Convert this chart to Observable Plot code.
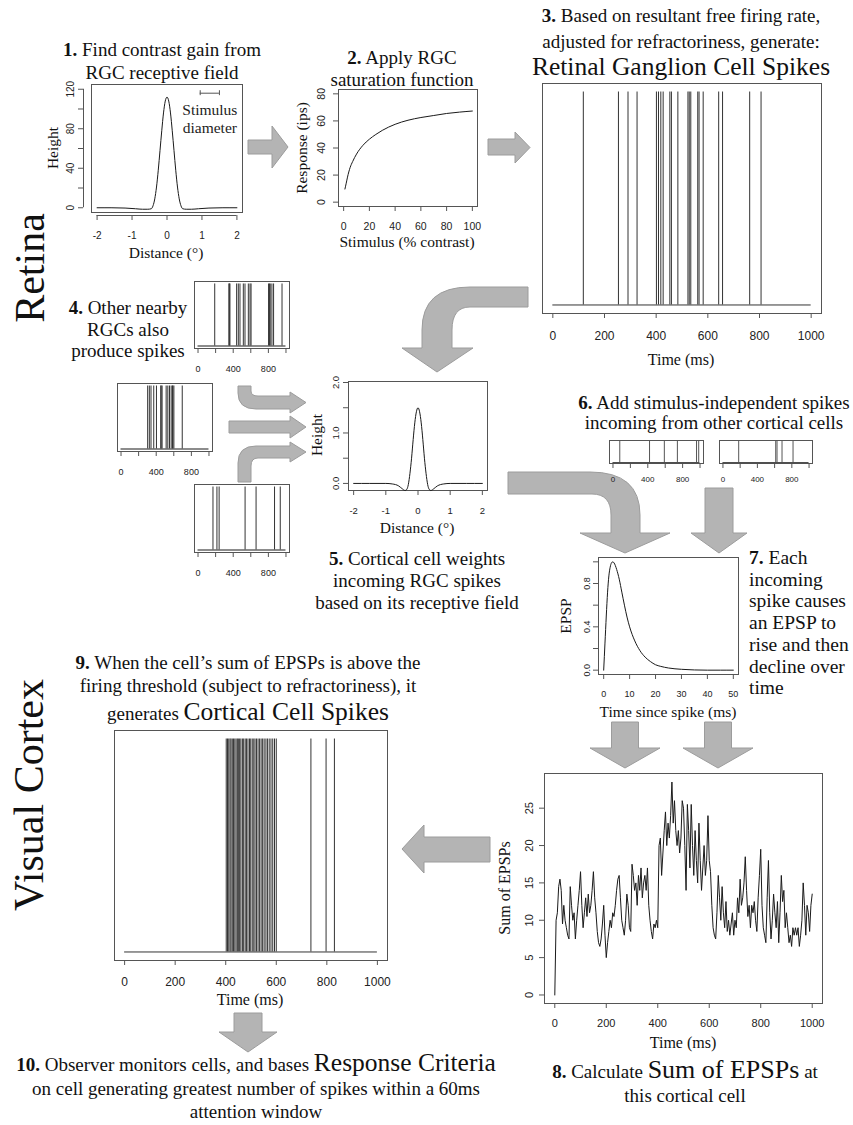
<!DOCTYPE html>
<html><head><meta charset="utf-8">
<script src="https://cdn.jsdelivr.net/npm/d3@7"></script>
<script src="https://cdn.jsdelivr.net/npm/@observablehq/plot@0.6"></script>
<style>
body{margin:0;background:#fff;}
#page{position:relative;width:853px;height:1125px;overflow:hidden;background:#fff;font-family:"Liberation Serif","Times New Roman",serif;color:#111;}
.t{position:absolute;white-space:nowrap;transform:translate(-50%,-50%);line-height:1;}
.l{position:absolute;white-space:nowrap;transform:translate(0,-50%);line-height:1;}
svg.plot-abs{position:absolute;}
</style></head><body><div id="page"></div>
<script>
// ---------------- DATA ----------------
// 1. RGC receptive field
const rfDistance = [-2,-1.6,-1.2,-0.9,-0.7,-0.55,-0.45,-0.4,-0.35,-0.3,-0.25,-0.2,-0.15,-0.1,-0.05,0,0.05,0.1,0.15,0.2,0.25,0.3,0.35,0.4,0.45,0.55,0.7,0.9,1.2,1.6,2];
const rfHeight   = [0,0,-0.3,-1,-1.5,-1.5,-1,2,9,21,38,58,78,96,108,112,108,96,78,58,38,21,9,2,-1,-1.5,-1.5,-1,-0.3,0,0];
const stimulusDiameter = [0.95, 1.5];
// 2. RGC saturation function
const satContrast = [1,2,3,5,7,10,15,20,25,30,40,50,60,70,80,90,100];
const satResponse = [9.7,14,18.5,25.5,30,35.5,42,46.5,50,53,57.5,60.5,62.5,64,65.5,66.5,67.3];
// 3. Retinal ganglion cell spikes (ms)
const rgcSpikes = [118,254,291,326,401,409,418,427,453,459,484,523,528,534,561,566,582,642,657,762,806];
// 4. Other nearby RGCs
const nearbySpikesA = [190,351,356,363,439,458,477,515,534,572,591,603,802,812,821,840,859,955];
const nearbySpikesB = [303,322,341,372,403,452,456,467,513,532,551,570,585,589,601,696];
const nearbySpikesC = [170,215,240,535,660,870,935];
// 5. Cortical cell receptive field weights
const cwDistance = [-2,-1.5,-1,-0.8,-0.6,-0.5,-0.4,-0.35,-0.3,-0.25,-0.2,-0.15,-0.1,-0.05,0,0.05,0.1,0.15,0.2,0.25,0.3,0.35,0.4,0.5,0.6,0.8,1,1.5,2];
const cwHeight   = [0,0,0,-0.01,-0.05,-0.1,-0.14,-0.12,-0.02,0.2,0.5,0.87,1.2,1.42,1.5,1.42,1.2,0.87,0.5,0.2,-0.02,-0.12,-0.14,-0.1,-0.05,-0.01,0,0,0];
// 6. Stimulus-independent cortical spikes
const otherSpikesA = [78,420,590,740,960,985];
const otherSpikesB = [183,613,628,686,814];
// 7. EPSP time course
const epspTime  = [0,0.5,1,1.5,2,2.5,3,3.5,4,5,6,7,8,9,10,12,14,16,18,20,22,25,30,35,40,45,50];
const epspValue = [0,0.25,0.5,0.72,0.87,0.95,0.99,1.0,0.99,0.93,0.84,0.72,0.6,0.49,0.4,0.27,0.18,0.12,0.08,0.05,0.035,0.02,0.008,0.002,0,0,0];
// 8. Sum of EPSPs, one sample every 5 ms from 0 to 1000 ms
const sumStepMs = 5;
const sumEPSPs = [
0,10,11,14.5,15.5,14,9.5,12,10,9,
8,7.5,14.5,12,10,11,7.5,10,12,14,
16.5,12,9,11,13,10.5,13.5,11,12,14,
16.5,13,11,8.5,7,6.5,7.5,9.5,12,8,
5,7,8.5,10,9,11,10.5,12,14,15.5,
16,13,10,9,8,10,13.5,12,9,8.5,
17.5,16,14,15,12,16,14,17,13,15,
16,14,17,12,10,8.5,7.5,9.5,9,10,
9,20,21,16,19,22,24.5,20,23,21,
24,28.5,23,26,22,20,22,19,21,26,
25,20,14,25.5,22,17,25.5,20,16,22,
18,15,23,18,14,17,20,16,18,24,
18,16.5,12,9,8,7.5,11,16,13,10,
14.5,11,9,12.5,8.5,10,8,9.5,11,8,
10,9,13,11,15.5,12,13,15,18.5,14,
10.5,12,9,12,11,12.5,10,8.5,13,16,
19.5,12,9,8,7,13,18,11,7.5,10,
13.5,11,9,12.5,7,11,16,12.5,14,9,
11,9,7,8,6.5,9,8,9,8,9,
6.5,8,10,15,12,8,12,11,8.5,12,
13.5];
// 9. Cortical cell spikes (ms)
const corticalSpikes = [402,407,412,417,421,426,431,436,441,446,450,455,460,466,471,477,482,488,494,499,505,511,516,522,528,534,540,546,552,559,565,572,579,586,593,600,737,797,830];
// tick values
const msTicks = [0,200,400,600,800,1000];
const msTicksSmallLabels = [0,400,800];
const degTicks = [-2,-1,0,1,2];
const rfTicks = [0,20,40,60,80,100,120], rfTickLabels = [0,40,80,120];
const pctTicks = [0,20,40,60,80,100], ipsTicks = [0,20,40,60,80];
const cwTicks = [0,0.5,1,1.5,2], cwTickLabels = [0,1,2];
const epspTimeTicks = [0,10,20,30,40,50];
const epspTicks = [0,0.2,0.4,0.6,0.8,1.0], epspTickLabels = [0,0.4,0.8];
const sumTicks = [0,5,10,15,20,25];

// ---------------- LAYOUT / STYLE ----------------
const AX = "#555", TX = "#222", LN = "#1a1a1a", SP = "#333";
const SANS = '"Liberation Sans",Arial,sans-serif';
const SERIF = '"Liberation Serif","Times New Roman",serif';
const page = document.getElementById("page");

function addText(x, y, html, size, cls = "t", extra = "") {
  const d = document.createElement("div");
  d.className = cls;
  d.style.left = x + "px"; d.style.top = y + "px"; d.style.fontSize = size + "px";
  if (extra) d.style.cssText += extra;
  d.innerHTML = html;
  page.appendChild(d);
}
function addVText(x, y, html, size) {
  addText(x, y, html, size, "t", "transform:translate(-50%,-50%) rotate(-90deg);");
}

function panel(box, xDomain, yDomain, marks, fs) {
  const M = 60;
  const svg = Plot.plot({
    width: box.w + 2 * M, height: box.h + 2 * M,
    marginTop: M, marginBottom: M, marginLeft: M, marginRight: M,
    x: {domain: xDomain, axis: null}, y: {domain: yDomain, axis: null},
    style: {fontFamily: SANS, fontSize: fs + "px", background: "transparent", overflow: "visible", color: TX},
    marks
  });
  svg.classList.add("plot-abs");
  svg.style.position = "absolute";
  svg.style.left = (box.x - M) + "px";
  svg.style.top = (box.y - M) + "px";
  svg.style.maxWidth = "none";
  page.appendChild(svg);
}

function rAxes(o) {
  const m = [Plot.frame({stroke: AX})];
  if (o.xTicks) {
    m.push(Plot.ruleY([o.yDomain[0]], {x1: o.xTicks[0], x2: o.xTicks[o.xTicks.length - 1], dy: o.gapX || 0, stroke: AX}));
    m.push(Plot.axisX({ticks: o.xTicks, tickSize: 5, tickPadding: o.xPad, dy: o.gapX || 0,
      tickFormat: d => o.xLabels.includes(d) ? (o.fmtX ? o.fmtX(d) : String(d)) : "",
      stroke: AX, fill: TX, fontSize: o.fs, label: null}));
  }
  if (o.yTicks) {
    m.push(Plot.ruleX([o.xDomain[0]], {y1: o.yTicks[0], y2: o.yTicks[o.yTicks.length - 1], dx: -(o.gapY || 0), stroke: AX}));
    m.push(Plot.axisY({ticks: o.yTicks, tickSize: 5, tickPadding: o.yPad, tickRotate: -90, dx: -(o.gapY || 0),
      tickFormat: d => o.yLabels.includes(d) ? (o.fmtY ? o.fmtY(d) : String(d)) : "",
      stroke: AX, fill: TX, fontSize: o.fs, label: null}));
  }
  return m;
}

const B = {
  p1: {x: 91, y: 84, w: 151, h: 128},
  p2: {x: 338, y: 89, w: 139, h: 117},
  p3: {x: 542, y: 83, w: 279, h: 230},
  p4a: {x: 194, y: 281, w: 95, h: 67},
  p4b: {x: 117, y: 383, w: 95, h: 68},
  p4c: {x: 194, y: 484, w: 95, h: 68},
  p5: {x: 348, y: 381, w: 139, h: 109},
  p6a: {x: 609, y: 440, w: 94, h: 23},
  p6b: {x: 719, y: 440, w: 93, h: 23},
  p7: {x: 598, y: 557, w: 140, h: 117},
  p8: {x: 544, y: 773, w: 278, h: 230},
  p9: {x: 114, y: 730, w: 273, h: 230}
};

// ---------------- ARROWS (diagram decoration) ----------------
const arrowPaths = [
  "M248,140 L272,140 L272,126 L288,147 L272,168 L272,154 L248,154 Z",
  "M488,139 L515,139 L515,132 L530,147.5 L515,163 L515,155 L488,155 Z",
  "M528,287 L470,287 Q422,287 422,330 L422,348 L402,348 L437,372 L473,348 L452,348 L452,330 Q452,307 470,307 L528,307 Z",
  "M238,386 L251,386 L251,391 Q251,396 258,396 L290,396 L290,392 L306,402.5 L290,413 L290,409 L256,409 Q238,409 238,393 Z",
  "M229,421 L290,421 L290,416 L306,427 L290,438 L290,433 L229,433 Z",
  "M238,482 L238,463 Q238,446 256,446 L290,446 L290,442 L306,452 L290,462 L290,458 L258,458 Q251,458 251,466 L251,482 Z",
  "M508,472 L590,472 Q640,472 640,515 L640,533 L670,533 L625,553 L580,533 L611,533 L611,515 Q611,494 592,494 L508,494 Z",
  "M705,488 L733,488 L733,533 L747,533 L719,553 L691,533 L705,533 Z",
  "M611.5,722 L638.5,722 L638.5,748 L660,748 L625,768 L590,748 L611.5,748 Z",
  "M704.5,722 L731.5,722 L731.5,748 L753,748 L718,768 L683,748 L704.5,748 Z",
  "M490,837 L424,837 L424,825 L402,849 L424,873 L424,862 L490,862 Z",
  "M234,1013 L262,1013 L262,1032 L277,1032 L248,1052 L219,1032 L234,1032 Z"
];
const ns = "http://www.w3.org/2000/svg";
const deco = document.createElementNS(ns, "svg");
deco.setAttribute("width", 853); deco.setAttribute("height", 1125);
deco.style.position = "absolute"; deco.style.left = "0"; deco.style.top = "0";
for (const d of arrowPaths) {
  const p = document.createElementNS(ns, "path");
  p.setAttribute("d", d); p.setAttribute("fill", "#b4b4b4"); p.setAttribute("stroke", "#9c9c9c"); p.setAttribute("stroke-width", "1");
  deco.appendChild(p);
}
page.appendChild(deco);

// ---------------- TEXT ----------------
const FS = 19, BIG = 25.5, AXT = 15.5;
addVText(30, 268, "Retina", 42);
addVText(29, 795, "Visual Cortex", 42);

addText(162, 49, "<b>1.</b> Find contrast gain from", FS);
addText(162, 72, "RGC receptive field", FS);
addVText(53, 148, "Height", AXT);
addText(166, 253, "Distance (°)", AXT);

addText(402, 57, "<b>2.</b> Apply RGC", FS);
addText(402, 79, "saturation function", FS);
addVText(302, 148, "Response (ips)", AXT);
addText(407, 242, "Stimulus (% contrast)", AXT);

addText(681, 15, "<b>3.</b> Based on resultant free firing rate,", FS);
addText(681, 41, "adjusted for refractoriness, generate:", FS);
addText(681, 67, "Retinal Ganglion Cell Spikes", BIG);
addText(681, 360, "Time (ms)", 16);

addText(128, 307, "<b>4.</b> Other nearby", FS);
addText(128, 328.5, "RGCs also", FS);
addText(128, 350, "produce spikes", FS);

addVText(317, 435, "Height", AXT);
addText(417, 528, "Distance (°)", AXT);
addText(417, 558, "<b>5.</b> Cortical cell weights", FS);
addText(417, 580, "incoming RGC spikes", FS);
addText(417, 602, "based on its receptive field", FS);

addText(714, 402, "<b>6.</b> Add stimulus-independent spikes", FS);
addText(714, 422, "incoming from other cortical cells", FS);

addVText(566, 616, "EPSP", AXT);
addText(668, 712, "Time since spike (ms)", AXT);
["<b>7.</b> Each", "incoming", "spike causes", "an EPSP to", "rise and then", "decline over", "time"]
  .forEach((s, i) => addText(749, 558 + i * 21.7, s, 19.5, "l"));

addVText(505, 888, "Sum of EPSPs", 16);
addText(683, 1043, "Time (ms)", 16);
addText(685, 1070, '<b>8.</b> Calculate <span style="font-size:26px">Sum of EPSPs</span> at', FS);
addText(685, 1095, "this cortical cell", FS);

addText(248, 662, "<b>9.</b> When the cell’s sum of EPSPs is above the", FS);
addText(248, 685, "firing threshold (subject to refractoriness), it", FS);
addText(248, 712, 'generates <span style="font-size:25.5px">Cortical Cell Spikes</span>', FS);
addText(250, 1000, "Time (ms)", 16);

addText(256, 1063, '<b>10.</b> Observer monitors cells, and bases <span style="font-size:25.5px">Response Criteria</span>', FS);
addText(256, 1088, "on cell generating greatest number of spikes within a 60ms", FS);
addText(256, 1111, "attention window", FS);

// ---------------- PLOTS ----------------
const fmt1 = d => d.toFixed(1);
const spikeY = [-0.04, 1.04];
const msX = [-40, 1040];

// Panel 1
{
  const xd = [-2.16, 2.16], yd = [-4.8, 124.8];
  const rows = rfDistance.map((x, i) => ({x, y: rfHeight[i]}));
  panel(B.p1, xd, yd, [
    ...rAxes({xDomain: xd, yDomain: yd, xTicks: degTicks, xLabels: degTicks, yTicks: rfTicks, yLabels: rfTickLabels, fs: 10, xPad: 11, yPad: 5, gapX: 3, gapY: 8}),
    Plot.line(rows, {x: "x", y: "y", stroke: LN, strokeWidth: 1, curve: "monotone-x"}),
    Plot.ruleY([116], {x1: stimulusDiameter[0], x2: stimulusDiameter[1], stroke: AX}),
    Plot.ruleX(stimulusDiameter, {y1: 113.5, y2: 118.5, stroke: AX}),
    Plot.text([{t: "Stimulus", y: 99}, {t: "diameter", y: 81}], {x: (stimulusDiameter[0] + stimulusDiameter[1]) / 2, y: "y", text: "t", fontFamily: SERIF, fontSize: 15.5, fill: TX})
  ], 10);
}
// Panel 2
{
  const xd = [-4, 104], yd = [-3.2, 83.2];
  const rows = satContrast.map((x, i) => ({x, y: satResponse[i]}));
  panel(B.p2, xd, yd, [
    ...rAxes({xDomain: xd, yDomain: yd, xTicks: pctTicks, xLabels: pctTicks, yTicks: ipsTicks, yLabels: ipsTicks, fs: 10.5, xPad: 11, yPad: 9}),
    Plot.line(rows, {x: "x", y: "y", stroke: LN, strokeWidth: 1, curve: "monotone-x"})
  ], 10.5);
}
// Panel 3
{
  panel(B.p3, msX, spikeY, [
    ...rAxes({xDomain: msX, yDomain: spikeY, xTicks: msTicks, xLabels: msTicks, fs: 12, xPad: 13}),
    Plot.ruleY([0], {x1: 0, x2: 1000, stroke: SP}),
    Plot.ruleX(rgcSpikes, {x: d => d, y1: 0, y2: 1, stroke: SP})
  ], 12);
}
// Panel 4 (three small rasters)
for (const [box, spikes] of [[B.p4a, nearbySpikesA], [B.p4b, nearbySpikesB], [B.p4c, nearbySpikesC]]) {
  panel(box, msX, spikeY, [
    ...rAxes({xDomain: msX, yDomain: spikeY, xTicks: msTicks, xLabels: msTicksSmallLabels, fs: 9, xPad: 12}),
    Plot.ruleY([0], {x1: 0, x2: 1000, stroke: "#666", strokeWidth: 1.5}),
    Plot.ruleX(spikes, {x: d => d, y1: 0, y2: 1, stroke: SP})
  ], 9);
}
// Panel 5
{
  const xd = [-2.16, 2.16], yd = [-0.14, 2.02];
  const rows = cwDistance.map((x, i) => ({x, y: cwHeight[i]}));
  panel(B.p5, xd, yd, [
    ...rAxes({xDomain: xd, yDomain: yd, xTicks: degTicks, xLabels: degTicks, yTicks: cwTicks, yLabels: cwTickLabels, fmtY: fmt1, fs: 9.5, xPad: 12, yPad: 5}),
    Plot.line(rows, {x: "x", y: "y", stroke: LN, strokeWidth: 1, curve: "monotone-x"})
  ], 9.5);
}
// Panel 6 (two small rasters)
for (const [box, spikes] of [[B.p6a, otherSpikesA], [B.p6b, otherSpikesB]]) {
  panel(box, msX, spikeY, [
    ...rAxes({xDomain: msX, yDomain: spikeY, xTicks: msTicks, xLabels: msTicksSmallLabels, fs: 8, xPad: 8}),
    Plot.ruleY([0], {x1: 0, x2: 1000, stroke: SP}),
    Plot.ruleX(spikes, {x: d => d, y1: 0, y2: 1, stroke: "#555"})
  ], 8);
}
// Panel 7
{
  const xd = [-2, 52], yd = [-0.04, 1.04];
  const rows = epspTime.map((x, i) => ({x, y: epspValue[i]}));
  panel(B.p7, xd, yd, [
    ...rAxes({xDomain: xd, yDomain: yd, xTicks: epspTimeTicks, xLabels: epspTimeTicks, yTicks: epspTicks, yLabels: epspTickLabels, fmtY: fmt1, fs: 9, xPad: 11, yPad: 4}),
    Plot.line(rows, {x: "x", y: "y", stroke: LN, strokeWidth: 1, curve: "monotone-x"})
  ], 9);
}
// Panel 8
{
  const xd = [-40, 1040], yd = [-1.14, 29.64];
  const rows = sumEPSPs.map((v, i) => ({t: i * sumStepMs, v}));
  panel(B.p8, xd, yd, [
    ...rAxes({xDomain: xd, yDomain: yd, xTicks: msTicks, xLabels: msTicks, yTicks: sumTicks, yLabels: sumTicks, fs: 11, xPad: 11, yPad: 7}),
    Plot.line(rows, {x: "t", y: "v", stroke: LN, strokeWidth: 1})
  ], 11);
}
// Panel 9
{
  panel(B.p9, msX, spikeY, [
    ...rAxes({xDomain: msX, yDomain: spikeY, xTicks: msTicks, xLabels: msTicks, fs: 12, xPad: 12}),
    Plot.ruleY([0], {x1: 0, x2: 1000, stroke: SP}),
    Plot.ruleX(corticalSpikes, {x: d => d, y1: 0, y2: 1, stroke: SP})
  ], 12);
}
</script></body></html>
